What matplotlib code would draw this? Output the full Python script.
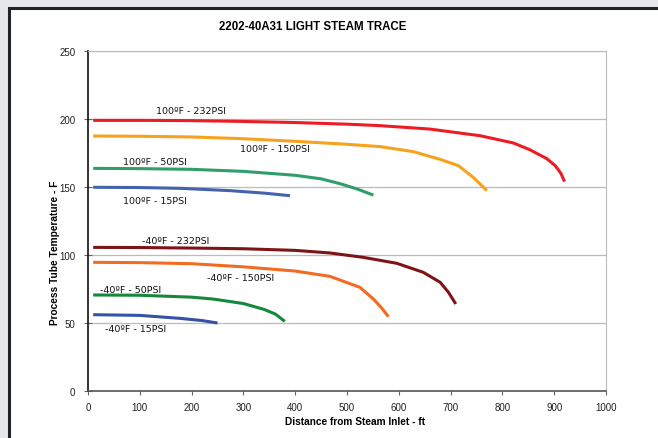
import matplotlib.pyplot as plt
from matplotlib.patches import Rectangle

# ----- data -----

x_232_hot = [10, 100, 200, 300, 400, 500, 564, 660, 757, 821, 853, 885, 902, 913, 920]
y_232_hot = [199, 199, 198.8, 198.2, 197.4, 196.2, 195.1, 192.6, 187.7, 182.4, 177.4, 171, 165.7, 160, 154]

x_150_hot = [10, 100, 200, 300, 400, 500, 564, 628, 680, 715, 744, 770]
y_150_hot = [187.5, 187.3, 186.8, 185.5, 183.6, 181.4, 179.7, 176, 170.3, 165.7, 157, 147.3]

x_50_hot = [10, 100, 200, 300, 400, 450, 486, 520, 551]
y_50_hot = [163.7, 163.5, 163, 161.5, 158.6, 156, 152.5, 148.5, 144]

x_15_hot = [10, 100, 180, 275, 340, 390]
y_15_hot = [149.8, 149.6, 149, 147.3, 145.5, 143.6]

x_232_cold = [10, 100, 200, 300, 400, 467, 531, 596, 647, 680, 696, 710]
y_232_cold = [105.6, 105.5, 105.1, 104.6, 103.4, 101.5, 98.3, 93.9, 87.3, 79.9, 72.5, 64]

x_150_cold = [10, 100, 200, 300, 400, 467, 525, 551, 567, 580]
y_150_cold = [94.6, 94.4, 93.6, 91.3, 88.2, 84.3, 76.2, 67.6, 61, 54.6]

x_50_cold = [10, 100, 200, 242, 300, 340, 362, 380]
y_50_cold = [70.6, 70.4, 69, 67.6, 64.3, 60, 56.5, 51.2]

x_15_cold = [10, 100, 178, 220, 250]
y_15_cold = [56.1, 55.6, 53.4, 51.8, 50]

x_ticks = [0, 100, 200, 300, 400, 500, 600, 700, 800, 900, 1000]
y_ticks = [0, 50, 100, 150, 200, 250]

# ----- figure with the grey frame and white panel -----

fig = plt.figure(figsize=(6.58, 4.39), dpi=100, facecolor="#e6e7e8")
fig.patches.append(Rectangle((9 / 658, -0.1), 1.2, 1.1 - 9 / 439,
                             transform=fig.transFigure, facecolor="white",
                             edgecolor="#222222", linewidth=2.2, zorder=-5))

ax = fig.add_axes([88 / 658, 1 - 392 / 439, 518 / 658, 340 / 439], zorder=2)

lw = 2.2
ax.plot(x_232_hot, y_232_hot, color="#ed1c24", lw=lw, solid_capstyle="butt", solid_joinstyle="round")
ax.plot(x_150_hot, y_150_hot, color="#f7a11d", lw=lw, solid_capstyle="butt", solid_joinstyle="round")
ax.plot(x_50_hot, y_50_hot, color="#2f9e6b", lw=lw, solid_capstyle="butt", solid_joinstyle="round")
ax.plot(x_15_hot, y_15_hot, color="#4462b0", lw=lw, solid_capstyle="butt", solid_joinstyle="round")
ax.plot(x_232_cold, y_232_cold, color="#7d1518", lw=lw, solid_capstyle="butt", solid_joinstyle="round")
ax.plot(x_150_cold, y_150_cold, color="#f36b22", lw=lw, solid_capstyle="butt", solid_joinstyle="round")
ax.plot(x_50_cold, y_50_cold, color="#15883b", lw=lw, solid_capstyle="butt", solid_joinstyle="round")
ax.plot(x_15_cold, y_15_cold, color="#3452a8", lw=lw, solid_capstyle="butt", solid_joinstyle="round")

# ----- curve labels -----

lab = dict(fontsize=6.8, color="#111111", family="DejaVu Sans", va="center")
ax.text(132, 206, "100ºF - 232PSI", **lab)
ax.text(293, 178.5, "100ºF - 150PSI", **lab)
ax.text(68, 169, "100ºF - 50PSI", **lab)
ax.text(68, 140.4, "100ºF - 15PSI", **lab)
ax.text(105, 110.5, "-40ºF - 232PSI", **lab)
ax.text(230, 83.6, "-40ºF - 150PSI", **lab)
ax.text(24, 74.3, "-40ºF - 50PSI", **lab)
ax.text(33, 46.1, "-40ºF - 15PSI", **lab)

# ----- axes styling -----

ax.set_xlim(0, 1000)
ax.set_ylim(0, 250)
ax.set_xticks(x_ticks)
ax.set_yticks(y_ticks)
ax.tick_params(axis="both", labelsize=7, colors="#222222")
ax.tick_params(axis="y", direction="inout", length=6, width=0.8, pad=6, color="#666666")
ax.tick_params(axis="x", direction="out", length=3, width=0.8, pad=5, color="#666666")
for lbl in ax.get_xticklabels() + ax.get_yticklabels():
    lbl.set_family("Liberation Sans")

ax.grid(True, axis="y", color="#bbbbbb", lw=0.9)
ax.set_axisbelow(True)
ax.spines["left"].set_color("#111111")
ax.spines["left"].set_linewidth(1.2)
ax.spines["bottom"].set_color("#555555")
ax.spines["bottom"].set_linewidth(1.2)
ax.spines["top"].set_color("#bbbbbb")
ax.spines["right"].set_color("#bbbbbb")

fig.text(313 / 658, 1 - 27 / 439, "2202-40A31 LIGHT STEAM TRACE", ha="center", va="center",
         fontsize=8.3, fontweight="bold", family="Liberation Sans")
fig.text(355 / 658, 1 - 422 / 439, "Distance from Steam Inlet - ft", ha="center", va="center",
         fontsize=7.3, fontweight="bold", family="Liberation Sans")
fig.text(55 / 658, 1 - 253 / 439, "Process Tube Temperature - F", ha="center", va="center",
         rotation=90, fontsize=7.3, fontweight="bold", family="Liberation Sans")

plt.savefig("out.png", dpi=100, facecolor=fig.get_facecolor())
